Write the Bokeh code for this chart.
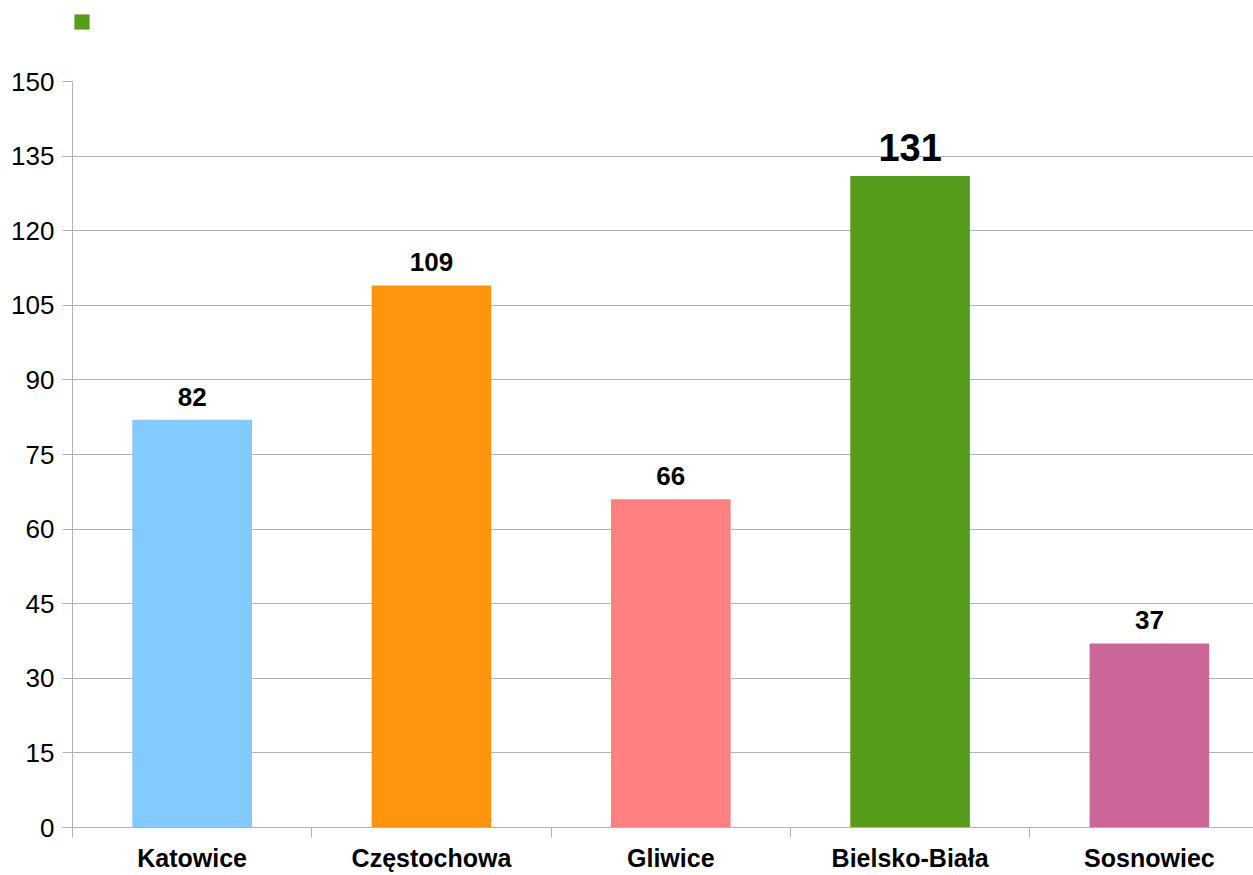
from bokeh.plotting import figure
from bokeh.layouts import column
from bokeh.models import ColumnDataSource, FixedTicker, Legend, LegendItem, Range1d
from bokeh.core.properties import value
from bokeh.embed import file_html
from bokeh.resources import INLINE

cities = ["Katowice", "Częstochowa", "Gliwice", "Bielsko-Biała", "Sosnowiec"]
counts = [82, 109, 66, 131, 37]
colors = ["#83caff", "#ff950e", "#ff8080", "#579d1c", "#cc6699"]
y_ticks = [0, 15, 30, 45, 60, 75, 90, 105, 120, 135, 150]

xs = [i + 0.5 for i in range(len(cities))]
labels = [str(c) for c in counts]
sizes = ["38px" if c == max(counts) else "26px" for c in counts]
offsets = [-15 if c == max(counts) else -14 for c in counts]

src = ColumnDataSource(dict(x=xs, top=counts, color=colors, label=labels,
                            size=sizes, off=offsets))

FONT = "Liberation Sans"
GRID = "#b3b3b3"
TOP_H = 40

# ---- strip above the chart holding the legend ----
top = figure(width=1253, height=TOP_H, output_backend="svg", toolbar_location=None,
             x_range=Range1d(0, 5), y_range=Range1d(1000, 1001),
             x_axis_location=None, y_axis_location=None, min_border=0)
top.outline_line_color = None
top.xgrid.grid_line_color = None
top.ygrid.grid_line_color = None
r_leg = top.vbar(x="x", top="top", width=0.5, fill_color="color",
                 line_color=None, source=src)
legend = Legend(items=[LegendItem(label=" ", renderers=[r_leg], index=3)],
                location=(0, 9), padding=0, margin=0, spacing=0,
                glyph_width=19, glyph_height=19, label_height=19,
                label_width=1, label_standoff=0, border_line_color=None,
                background_fill_alpha=0, label_text_font_size="10px")
top.add_layout(legend, "center")

# ---- main chart ----
p = figure(width=1253, height=875 - TOP_H, output_backend="svg",
           toolbar_location=None,
           x_range=Range1d(0, 4.935), y_range=Range1d(0, 150),
           min_border_left=72, min_border_right=0, min_border_top=81 - TOP_H,
           min_border_bottom=48)
p.outline_line_color = None
p.background_fill_color = "white"
p.border_fill_color = "white"

r = p.vbar(x="x", top="top", width=0.5, fill_color="color", line_color=None,
           source=src)
p.text(x="x", y="top", text="label", text_font=value(FONT),
       text_font_style="bold", text_font_size="size", text_align="center",
       text_baseline="bottom", y_offset="off", text_color="black", source=src)

# y axis
p.yaxis.ticker = FixedTicker(ticks=y_ticks)
p.yaxis.axis_line_color = GRID
p.yaxis.major_tick_line_color = GRID
p.yaxis.major_tick_out = 10
p.yaxis.major_tick_in = 0
p.yaxis.minor_tick_line_color = None
p.yaxis.major_label_text_font = FONT
p.yaxis.major_label_text_font_size = "26px"
p.yaxis.major_label_text_color = "black"
p.yaxis.major_label_standoff = 8

# x axis
p.xaxis.ticker = FixedTicker(ticks=xs, minor_ticks=list(range(len(cities) + 1)))
p.xaxis.major_label_overrides = {x: c for x, c in zip(xs, cities)}
p.xaxis.axis_line_color = GRID
p.xaxis.major_tick_line_color = None
p.xaxis.major_tick_out = 10
p.xaxis.major_tick_in = 0
p.xaxis.minor_tick_line_color = GRID
p.xaxis.minor_tick_out = 10
p.xaxis.minor_tick_in = 0
p.xaxis.major_label_text_font = FONT
p.xaxis.major_label_text_font_style = "bold"
p.xaxis.major_label_text_font_size = "25px"
p.xaxis.major_label_text_color = "black"
p.xaxis.major_label_standoff = 6

p.xgrid.grid_line_color = None
p.ygrid.grid_line_color = GRID
p.ygrid.ticker = FixedTicker(ticks=y_ticks)

layout = column(top, p, spacing=0)
open("out.html", "w").write(file_html(layout, INLINE))
